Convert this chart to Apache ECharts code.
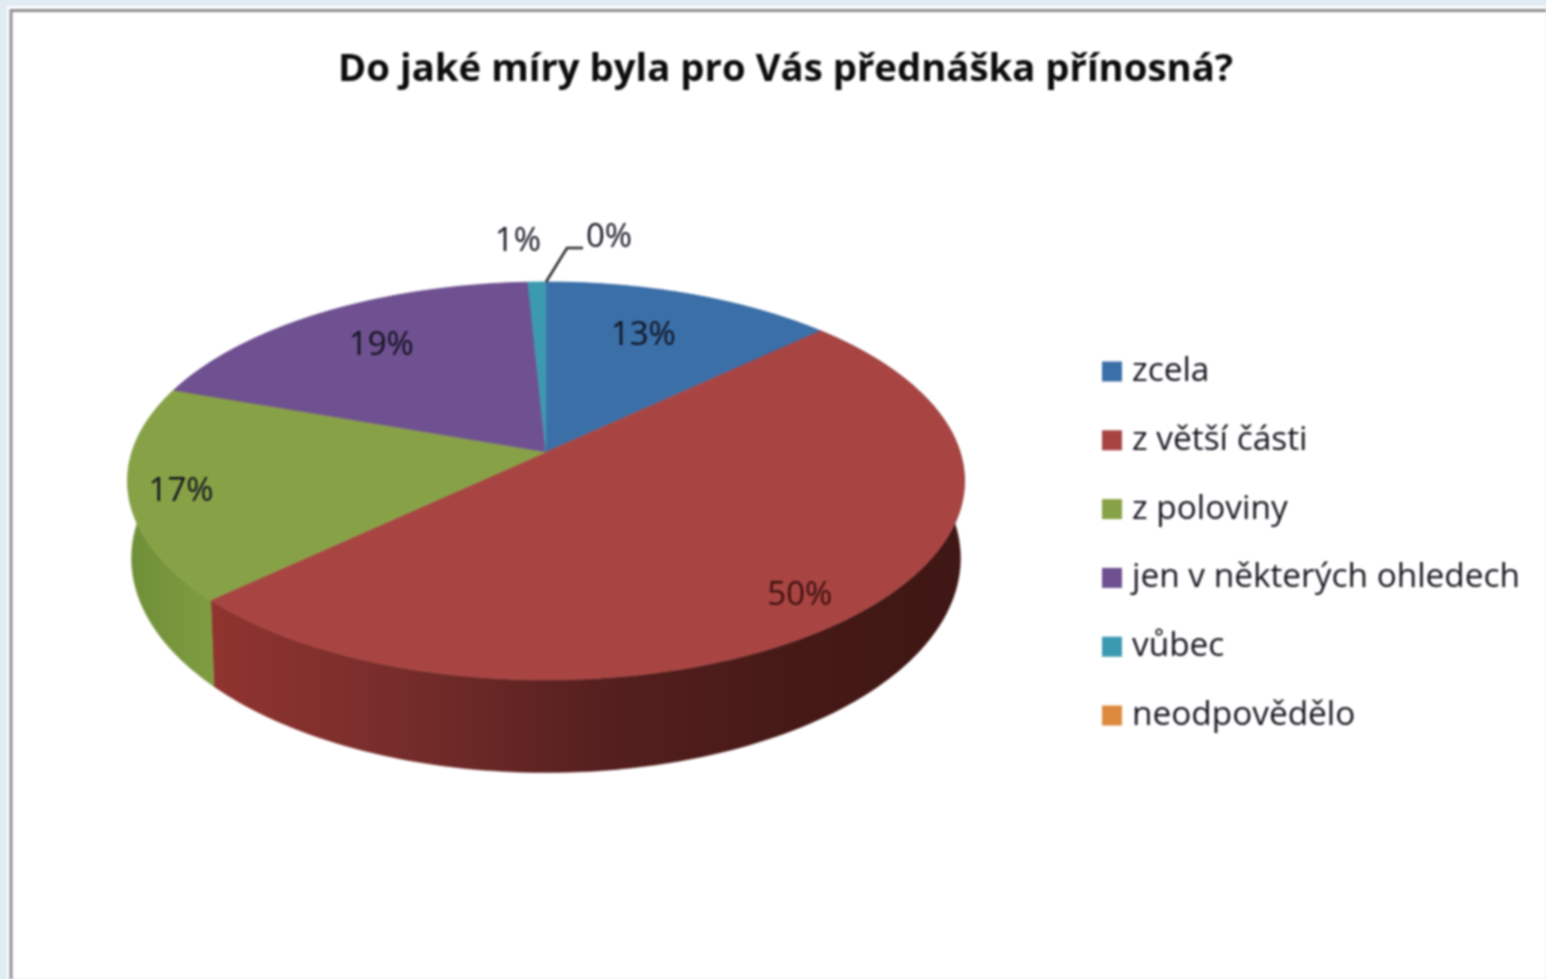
<!DOCTYPE html>
<html><head><meta charset="utf-8">
<style>html,body{margin:0;padding:0;background:#e0ebf2}#c{width:1546px;height:979px;filter:blur(0.8px)}</style>
<script src="https://cdn.jsdelivr.net/npm/echarts@6/dist/echarts.min.js"></script>
</head><body><div id="c"></div>
<script>
const chartTitle = 'Do jaké míry byla pro Vás přednáška přínosná?';
const categories = ['zcela', 'z větší části', 'z poloviny', 'jen v některých ohledech', 'vůbec', 'neodpovědělo'];
const values = [13, 50, 17.4, 18.8, 0.8, 0];
const topColors = ['#3b6fa8', '#a84543', '#87a246', '#6f5191', '#3c9ab0', '#dd8a3e'];

// layout of the tilted disc (perspective projection of a unit circle)
const persp = 0.1457;
const topDisc = {cx: 546, a: 414, A: -128.9, B: 452};
const baseDisc = {cx: 546, a: 410, A: -133, B: 527};
const labelRadius = [0.73, 0.8, 0.87, 0.66, 1, 1];
const labelNudge = [[-12, 2], [6, 19], [-3, 4], [-13, -11], [-19, -40], [63, -44]];
const FONT = '"Open Sans"';

const total = values.reduce((p, v) => p + v, 0);
function project(disc, deg, r) {
  const t = deg * Math.PI / 180, d = Math.cos(t) * r, s = Math.sin(t) * r, w = 1 + persp * d;
  return [disc.cx + disc.a * s / w, (disc.A * d + disc.B) / w];
}
function arc(disc, from, to) {
  const pts = [], n = Math.max(1, Math.ceil(Math.abs(to - from)));
  for (let i = 0; i <= n; i++) pts.push(project(disc, from + (to - from) * i / n, 1));
  return pts;
}
function wallFill(index) {
  const G = echarts.graphic.LinearGradient;
  if (index === 1) return new G(210, 0, 960, 0, [
    {offset: 0, color: '#90342f'}, {offset: 0.25, color: '#772d2b'},
    {offset: 0.52, color: '#55201f'}, {offset: 0.8, color: '#451916'}, {offset: 1, color: '#3f1714'}], true);
  if (index === 2) return new G(130, 0, 212, 0, [{offset: 0, color: '#6f8f38'}, {offset: 1, color: '#7f9c40'}], true);
  return topColors[index];
}
function sliceRenderer(index) {
  const start = values.slice(0, index).reduce((p, v) => p + v, 0);
  return function (params, api) {
    const v = api.value(0);
    const a0 = start / total * 360, a1 = (start + v) / total * 360, mid = (a0 + a1) / 2;
    const children = [];
    if (v > 0) {
      const topArc = arc(topDisc, a0, a1), baseArc = arc(baseDisc, a0, a1);
      const fill = wallFill(index);
      children.push({type: 'polygon', z2: 1, silent: true,
        shape: {points: topArc.concat(baseArc.slice().reverse())},
        style: {fill: fill, stroke: fill, lineWidth: 0.5}});
      children.push({type: 'polygon', z2: 2, silent: true,
        shape: {points: [project(topDisc, 0, 0)].concat(topArc)},
        style: {fill: topColors[index], stroke: topColors[index], lineWidth: 0.5}});
    }
    const p = project(topDisc, mid, labelRadius[index]);
    const n = labelNudge[index];
    if (v === 0) {
      children.push({type: 'polyline', z2: 4, silent: true,
        shape: {points: [p, [p[0] + 21, p[1] - 34], [p[0] + 37, p[1] - 34]]},
        style: {fill: 'none', stroke: '#2a2a2a', lineWidth: 2.5}});
    }
    children.push({type: 'text', z2: 5, silent: true,
      style: {x: p[0] + n[0], y: p[1] + n[1], text: Math.round(v) + '%', fill: index === 1 ? '#3d0f0d' : '#12121e',
        font: '33px ' + FONT, textAlign: 'center', textVerticalAlign: 'middle'}});
    return {type: 'group', children: children};
  };
}

const chart = echarts.init(document.getElementById('c'), null, {renderer: 'canvas'});
chart.setOption({
  animation: false,
  backgroundColor: '#e0ebf2',
  title: {text: chartTitle, left: 333, top: 46,
    textStyle: {fontFamily: FONT, fontWeight: 'bold', fontSize: 38.3, color: '#0c0c0c'}},
  legend: {orient: 'vertical', left: 1097, top: 350, itemWidth: 20, itemHeight: 20, itemGap: 35.8,
    icon: 'rect', selectedMode: false, data: categories,
    textStyle: {fontFamily: FONT, fontSize: 33.4, color: '#14141e', padding: [0, 0, 0, 5]}},
  graphic: [
    {type: 'rect', z: -10, silent: true, shape: {x: 7, y: 6, width: 1560, height: 1000}, style: {fill: '#ffffff'}},
    {type: 'rect', z: -9, silent: true, shape: {x: 11, y: 10.5, width: 1570, height: 1000},
      style: {fill: '#ffffff', stroke: '#8f8f8f', lineWidth: 3}}
  ],
  series: categories.map((name, i) => ({
    type: 'custom', name: name, coordinateSystem: 'none',
    itemStyle: {color: topColors[i]},
    renderItem: sliceRenderer(i),
    data: [[values[i]]]
  }))
});
</script></body></html>
